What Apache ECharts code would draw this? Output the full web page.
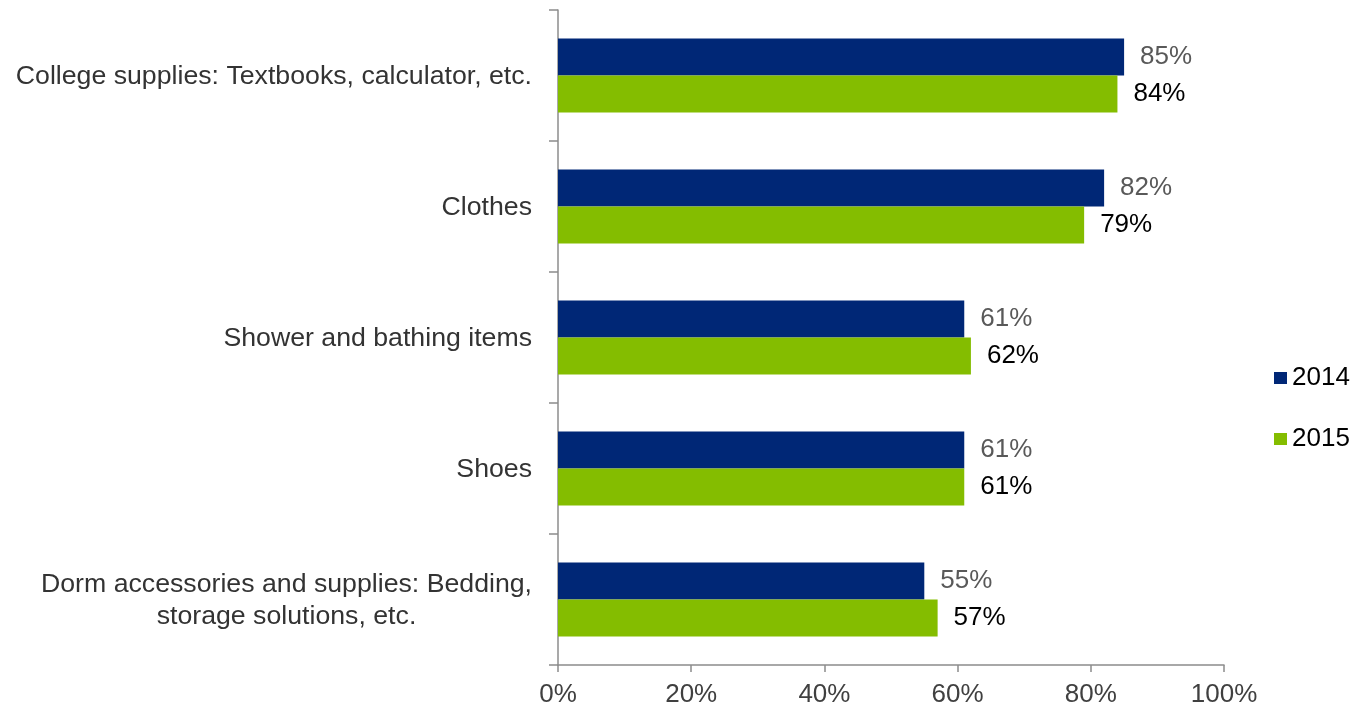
<!DOCTYPE html>
<html>
<head>
<meta charset="utf-8">
<script src="https://cdn.jsdelivr.net/npm/echarts@6/dist/echarts.min.js"></script>
<style>
  html, body { margin: 0; padding: 0; background: #fff; }
  #chart { width: 1357px; height: 711px; }
</style>
</head>
<body>
<div id="chart"></div>
<script>
// Back-to-college purchase categories (share of shoppers)
const categories = [
  'College supplies: Textbooks, calculator, etc.',
  'Clothes',
  'Shower and bathing items',
  'Shoes',
  'Dorm accessories and supplies: Bedding,\nstorage solutions, etc.'
];
const values2014 = [85, 82, 61, 61, 55];
const values2015 = [84, 79, 62, 61, 57];
const xTicks = [0, 20, 40, 60, 80, 100];

const FONT = '"Liberation Sans", Arial, sans-serif';
const FONT_SIZE = 26;
const CAT_FONT_SIZE = 26.7;
const AXIS_COLOR = '#8c8c8c';

const chart = echarts.init(document.getElementById('chart'), null, { renderer: 'canvas' });

function barSeries(name, data, color, labelColor) {
  return {
    name: name,
    type: 'bar',
    data: data,
    barGap: '0%',
    barCategoryGap: '43.5%',
    itemStyle: { color: color },
    label: {
      show: true,
      position: 'right',
      distance: 16,
      formatter: '{c}%',
      color: labelColor,
      fontFamily: FONT,
      fontSize: FONT_SIZE
    },
    emphasis: { disabled: true }
  };
}

chart.setOption({
  animation: false,
  backgroundColor: '#ffffff',
  grid: { left: 558, right: 133, top: 10, bottom: 46, containLabel: false },
  legend: {
    orient: 'vertical',
    left: 1269,
    top: 360,
    itemWidth: 13,
    itemHeight: 12,
    itemGap: 35,
    icon: 'rect',
    textStyle: { fontFamily: FONT, fontSize: FONT_SIZE, color: '#000' },
    data: ['2014', '2015']
  },
  xAxis: {
    type: 'value',
    min: 0,
    max: 100,
    interval: 20,
    axisLine: { show: true, lineStyle: { color: AXIS_COLOR, width: 1.5 } },
    axisTick: { show: true, length: 7, lineStyle: { color: AXIS_COLOR, width: 1.5 } },
    splitLine: { show: false },
    axisLabel: {
      margin: 17,
      fontFamily: FONT,
      fontSize: FONT_SIZE,
      color: '#404040',
      formatter: function (v) { return xTicks.indexOf(v) >= 0 ? v + '%' : ''; }
    }
  },
  yAxis: {
    type: 'category',
    inverse: true,
    data: categories,
    axisLine: { show: true, lineStyle: { color: AXIS_COLOR, width: 1.5 } },
    axisTick: { show: true, length: 9, alignWithLabel: false, lineStyle: { color: AXIS_COLOR, width: 1.5 } },
    axisLabel: {
      margin: 26,
      fontFamily: FONT,
      fontSize: CAT_FONT_SIZE,
      color: '#333333',
      lineHeight: 32,
      formatter: function (v) {
        return v.split('\n').map(function (s) { return '{c|' + s + '}'; }).join('\n');
      },
      rich: {
        c: { align: 'center', fontFamily: FONT, fontSize: CAT_FONT_SIZE, color: '#333333', lineHeight: 32, padding: [3, 0, 0, 0] }
      }
    }
  },
  series: [
    barSeries('2014', values2014, '#002776', '#595959'),
    barSeries('2015', values2015, '#84BD00', '#000000')
  ]
});
</script>
</body>
</html>
